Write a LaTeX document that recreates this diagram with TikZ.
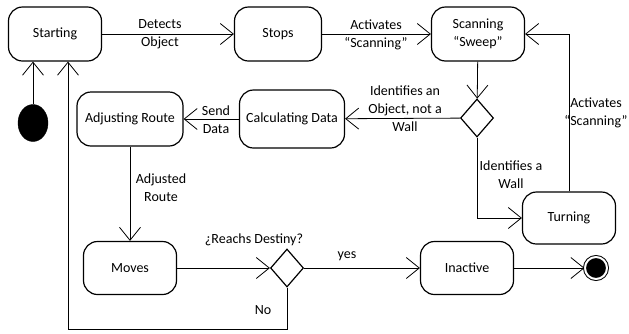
\documentclass[tikz,border=0pt]{standalone}
\usepackage{fontspec}
\setmainfont{Carlito}
\usetikzlibrary{shapes.geometric,arrows.meta}
\begin{document}
\begin{tikzpicture}[x=1pt,y=-1pt,
        main/.style = {draw, rounded corners=14pt, line width=1.2pt, minimum width=93pt, minimum height=54pt, align=center},
        choice/.style = {draw, diamond, line width=1.2pt, inner sep=0pt, minimum width=33pt, minimum height=38pt},
        lbl/.style = {align=center, inner sep=0pt},
        flow/.style = {-{Straight Barb[length=13pt,width=21pt]}, line width=0.8pt},
        font=\fontsize{14}{18}\selectfont]
        \useasboundingbox (0,0) rectangle (629,333);
        \node[main] (start) at (55,34) {Starting};
        \node[main, minimum width=87pt] (stops) at (278,34) {Stops};
        \node[main] (scan) at (478,34) {Scanning\\``Sweep''};
        \node[choice] (d1) at (477,118) {};
        \node[main, minimum width=105pt, minimum height=58pt] (calc) at (292,119) {Calculating Data};
        \node[main, minimum width=106pt] (adjust) at (130,119) {Adjusting Route};
        \node[main, minimum height=52pt] (turn) at (569,218) {Turning};
        \node[main, minimum height=53pt] (moves) at (130,268) {Moves};
        \node[choice] (d2) at (287,268) {};
        \node[main, minimum height=53pt] (inact) at (467,268) {Inactive};
        \node[draw, fill=black, ellipse, minimum width=30pt, minimum height=37pt] (init) at (33,123) {};
        \node[draw, fill=black, circle, minimum size=22pt, line width=1pt, double, double distance=2pt] (end) at (596,268) {};
        \coordinate (low) at (68,329);
        % connectors
        \draw[flow] (init) -- (init |- start.south);
        \draw[flow] (start) -- (stops);
        \draw[flow] (stops) -- (scan);
        \draw[flow] (scan) -- (d1);
        \draw[flow] (d1) -- (calc);
        \draw[flow] (calc) -- (adjust);
        \draw[flow] (adjust) -- (moves);
        \draw[flow] (moves) -- (d2);
        \draw[flow] (d2) -- (inact);
        \draw[flow] (inact) -- (end);
        \draw[flow] (d1.south) |- (turn.west);
        \draw[flow] (turn.north) |- (scan.east);
        \draw[flow] (d2.south) |- (low) -- (low |- start.south);
        % labels
        \node[lbl] (l1) at (160,34) {Detects\\Object};
        \node[lbl] (l2) at (376,35) {Activates\\``Scanning''};
        \node[lbl] (l3) at (405,109) {Identifies an\\Object, not a\\Wall};
        \node[lbl] (l4) at (511,175) {Identifies a\\Wall};
        \node[lbl] (l5) at (596,113) {Activates\\``Scanning''};
        \node[lbl] (l6) at (216,120) {Send\\Data};
        \node[lbl] (l7) at (161,188) {Adjusted\\Route};
        \node[lbl] (l8) at (254,240) {¿Reachs Destiny?};
        \node[lbl] (l9) at (347,256) {yes};
        \node[lbl] (l10) at (263,310) {No};
\end{tikzpicture}
\end{document}
